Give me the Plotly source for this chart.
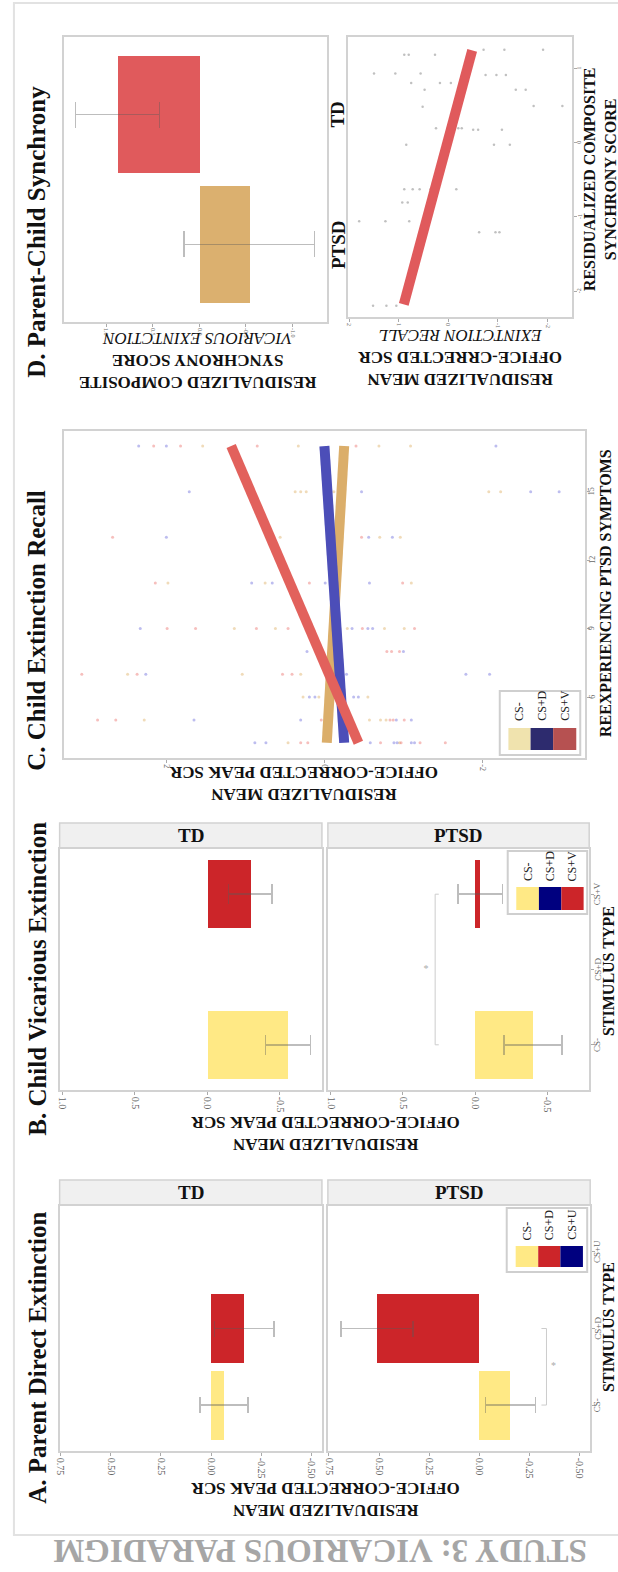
import plotly.graph_objects as go

W, H = 618, 1572
SERIF = "Liberation Serif"

# ---------------- DATA ----------------
A_categories = ["CS-", "CS+D", "CS+U"]
A_TD_mean = [-0.065, -0.165, None]
A_TD_se = [0.12, 0.148, None]
A_PTSD_mean = [-0.155, 0.51, None]
A_PTSD_se = [0.125, 0.18, None]
A_colors = ["#FFE985", "#CC2529", "#00007F"]
A_value_ticks = [0.75, 0.5, 0.25, 0.0, -0.25, -0.5]
A_value_ticktext = ["0.75", "0.50", "0.25", "0.00", "-0.25", "-0.50"]
A_sig = ("CS-", "CS+D", -0.335, -0.37)   # PTSD bracket: from, to, value, star value

B_categories = ["CS-", "CS+D", "CS+V"]
B_TD_mean = [-0.555, None, -0.295]
B_TD_se = [0.155, None, 0.15]
B_PTSD_mean = [-0.40, None, -0.035]
B_PTSD_se = [0.20, None, 0.155]
B_colors = ["#FFE985", "#00007F", "#CC2529"]
B_value_ticks = [1.0, 0.5, 0.0, -0.5]
B_value_ticktext = ["1.0", "0.5", "0.0", "-0.5"]
B_sig = ("CS-", "CS+V", 0.277, 0.34)

C_stimuli = ["CS-", "CS+D", "CS+V"]
C_sym_csminus = [17, 17, 17, 17, 15, 15, 15, 15, 15, 15, 13, 13, 13, 11, 11, 11, 9, 9, 9, 9, 9,
                 7, 7, 7, 6, 6, 6, 5, 5, 5, 5, 4, 4]
C_scr_csminus = [1.54, 0.33, -0.69, -1.09, 0.37, 0.30, 0.23, -0.12, -2.08, -2.23, 0.56, -0.70, -0.96,
                 1.98, 0.75, -1.10, 1.14, 0.62, -0.29, -0.76, -1.01, 2.49, 1.04, 0.30, 0.27, 0.07, -0.55,
                 2.28, -0.57, -0.71, -0.78, 0.46, -0.95]
C_sym_csd = [17, 17, 17, 15, 15, 15, 15, 13, 13, 13, 11, 11, 11, 11, 9, 9, 9, 9, 8, 8, 7, 7, 7, 7,
             6, 6, 6, 6, 5, 5, 5, 5, 4, 4, 4, 4, 4, 4, 4]
C_scr_csd = [2.35, 2.00, -2.17, 1.71, -0.47, -2.61, -2.97, 2.00, -0.56, -0.86, 0.92, 0.66, -0.01, -0.57,
             2.33, -0.35, -0.55, -0.61, 0.22, -1.00, 2.26, -0.28, -1.79, -2.09, 0.19, 0.12, -0.37, -0.43,
             1.65, 0.30, -0.91, -1.10, 0.88, 0.74, -0.58, -0.88, -0.92, -1.10, -1.14]
C_sym_csv = [17, 17, 17, 17, 13, 13, 11, 11, 11, 9, 9, 9, 9, 9, 9, 8, 8, 8, 7, 7, 7, 7,
             5, 5, 5, 5, 5, 5, 4, 4, 4, 4, 4, 4]
C_scr_csv = [2.16, 1.82, 0.85, -0.40, 2.68, -0.47, 2.14, 0.19, -0.99, 1.99, 1.63, 0.86, 0.46, -0.48, -1.14,
             -0.79, -0.85, -0.95, 3.07, 2.37, 0.53, 0.41, 2.87, 2.64, 0.04, -0.83, -0.87, -1.01,
             0.30, 0.21, -0.71, -0.97, -1.21, -1.53]
C_line_sym = [4, 17]
C_line_csminus = [-0.03, -0.25]
C_line_csd = [-0.25, 0.0]
C_line_csv = [-0.43, 1.18]
C_point_colors = ["#D9A54F", "#5A5AD6", "#E8605A"]
C_line_colors = ["#DBAE6A", "#4C4EB8", "#E2615C"]
C_legend_colors = ["#F0E3AE", "#2D2B6E", "#B65151"]
C_x_ticks = [2, 0, -2]
C_y_ticks = [6, 9, 12, 15]

D_groups = ["PTSD", "TD"]
D_sync_mean = [-0.535, 0.88]
D_sync_se = [0.70, 0.45]
D_colors = ["#DBB06F", "#E05A5C"]
D_x_ticks = [1.0, 0.5, 0.0, -0.5, -1.0]
D_x_ticktext = ["1.0", "0.5", "0.0", "-0.5", "-1.0"]
D_sync = [1.18, 1.18, 1.18, 1.25, 1.25, 1.25, 0.93, 0.93, 0.93, 0.91, 0.91, 0.91, 0.80, 0.80, 0.80,
          0.71, 0.71, 0.71, 0.48, 0.49, 0.49, 0.19, 0.19, 0.19, 0.19, 0.17, 0.17, 0.17, -0.03, -0.03, -0.03,
          -0.63, -0.63, -0.63, -0.63, -0.63, -0.81, -0.81, -1.06, -1.06, -1.06, -1.21, -1.21, -1.21,
          -2.20, -2.20, -2.20]
D_recall = [0.89, 0.80, 0.27, -0.71, -1.13, -1.91, 1.50, 1.07, 0.56, -0.75, -0.97, -1.16, 0.75, 0.17, -0.05,
            0.48, -1.36, -1.56, 0.52, -1.72, -2.30, 0.25, -0.05, -0.20, -0.27, -0.50, -0.60, -1.08,
            0.85, -0.92, -1.24, 0.89, 0.72, 0.58, 0.36, -0.16, 0.93, 0.82, 1.80, 1.27, 0.79,
            -0.62, -0.95, -1.03, 1.52, 1.25, 1.05]
D_line_sync = [-2.18, 1.24]
D_line_recall = [0.90, -0.48]
D_bx_ticks = [2, 1, 0, -1, -2]
D_by_ticks = [1, 0, -1, -2]


# ---------------- helpers ----------------
def px(x):
    return x / W


def py(y):
    return 1 - y / H


fig = go.Figure()
layout = {}
shapes = []
annos = []

BORDER = "#d2d2d2"
TICKC = "#666666"


def axname(n, letter):
    return f"{letter}axis" if n == 1 else f"{letter}axis{n}"


def ref(n, letter):
    return letter if n == 1 else f"{letter}{n}"


def set_axes(n, xd, yd, xr, yr, xt=None, xtt=None, yt=None, ytt=None, ylab_x=None,
             xfont=10, yfont=9, ycolor=TICKC, ybold=False, yticks=True):
    layout[axname(n, "x")] = dict(
        domain=[px(xd[0]), px(xd[1])], range=xr, anchor=ref(n, "y"),
        tickvals=xt, ticktext=xtt, tickangle=90, ticks="outside", ticklen=3,
        tickcolor="#aaaaaa", tickfont=dict(family=SERIF, size=xfont, color=TICKC),
        showgrid=False, zeroline=False, showline=True, mirror=True, linecolor=BORDER,
        linewidth=1.5, fixedrange=True)
    show_y = yt is not None
    layout[axname(n, "y")] = dict(
        domain=[py(yd[1]), py(yd[0])], range=yr, anchor=ref(n, "x"), side="right",
        tickvals=yt if show_y else [], ticks="outside" if (show_y and yticks) else "",
        ticklen=3, tickcolor="#aaaaaa", showticklabels=False,
        showgrid=False, zeroline=False, showline=True, mirror=True,
        linecolor=BORDER, linewidth=1.5, fixedrange=True)
    if show_y:
        # right-hand tick labels, rotated to read bottom-to-top
        for v, t in zip(yt, ytt):
            annos.append(dict(x=px(ylab_x), y=v, xref="paper", yref=ref(n, "y"), text=t, textangle=-90,
                              showarrow=False, xanchor="center", yanchor="middle",
                              font=dict(family=SERIF, size=yfont, color=ycolor,
                                        weight="bold" if ybold else "normal")))


def add_bars(n, cats, means, ses, colors, cap):
    idx = [i for i, m in enumerate(means) if m is not None]
    fig.add_trace(go.Bar(
        x=[means[i] for i in idx], y=idx, orientation="h", width=0.9,
        marker=dict(color=[colors[i] for i in idx], line=dict(width=0)),
        error_x=dict(type="data", array=[ses[i] for i in idx], color="rgba(90,90,90,0.4)",
                     thickness=1.5, width=cap),
        xaxis=ref(n, "x"), yaxis=ref(n, "y"), showlegend=False, hoverinfo="skip"))


def add_bracket(n, cats, sig):
    c0, c1, v, star = sig
    i0, i1 = cats.index(c0), cats.index(c1)
    d = -0.025 if v > 0 else 0.025
    fig.add_trace(go.Scatter(x=[v + d, v, v, v + d], y=[i0, i0, i1, i1], mode="lines",
                             line=dict(color="#cccccc", width=1), xaxis=ref(n, "x"), yaxis=ref(n, "y"),
                             showlegend=False, hoverinfo="skip"))
    fig.add_trace(go.Scatter(x=[star], y=[(i0 + i1) / 2], mode="text", text=["*"],
                             textfont=dict(size=10, color="#aaaaaa", family=SERIF),
                             xaxis=ref(n, "x"), yaxis=ref(n, "y"), showlegend=False, hoverinfo="skip"))


def strip(x0, x1, y0, y1, label):
    shapes.append(dict(type="rect", xref="paper", yref="paper", x0=px(x0), x1=px(x1), y0=py(y1), y1=py(y0),
                       fillcolor="#f0f0f0", line=dict(color=BORDER, width=1.5), layer="below"))
    annos.append(dict(x=px((x0 + x1) / 2), y=py((y0 + y1) / 2), xref="paper", yref="paper", text=label,
                      showarrow=False, font=dict(family=SERIF, size=19, color="#111111", weight="bold"),
                      xanchor="center", yanchor="middle"))


def legend_box(box, sw_x, sw_y, labels, colors, label_bottom):
    shapes.append(dict(type="rect", xref="paper", yref="paper", x0=px(box[0]), x1=px(box[2]),
                       y0=py(box[3]), y1=py(box[1]), fillcolor="white",
                       line=dict(color="#cfcfcf", width=2), layer="above"))
    for i, (lab, col) in enumerate(zip(labels, colors)):
        shapes.append(dict(type="rect", xref="paper", yref="paper", x0=px(sw_x[i]), x1=px(sw_x[i + 1]),
                           y0=py(sw_y[1]), y1=py(sw_y[0]), fillcolor=col, line=dict(width=0), layer="above"))
        annos.append(dict(x=px((sw_x[i] + sw_x[i + 1]) / 2), y=py(label_bottom), xref="paper", yref="paper",
                          text=lab, textangle=-90, showarrow=False, xanchor="center", yanchor="bottom",
                          font=dict(family=SERIF, size=12, color="#222222")))


def text(x, y, s, size, angle=0, color="#111111", bold=True):
    annos.append(dict(x=px(x), y=py(y), xref="paper", yref="paper", text=s, textangle=angle,
                      showarrow=False, xanchor="center", yanchor="middle",
                      font=dict(family=SERIF, size=size, color=color,
                                weight="bold" if bold else "normal")))


# ---------------- Panel A ----------------
A_xr = [0.755, -0.553]
A_pos = list(range(len(A_categories)))
set_axes(1, (56, 320), (1206, 1451), A_xr, [-0.6, 2.6], A_value_ticks, A_value_ticktext)
set_axes(2, (326, 590), (1206, 1451), A_xr, [-0.6, 2.6], A_value_ticks, A_value_ticktext,
         A_pos, A_categories, ylab_x=597)
add_bars(1, A_categories, A_TD_mean, A_TD_se, A_colors, 8)
add_bars(2, A_categories, A_PTSD_mean, A_PTSD_se, A_colors, 8)
add_bracket(2, A_categories, A_sig)
strip(56, 320, 1180, 1205, "TD")
strip(326, 590, 1180, 1205, "PTSD")
legend_box((506, 1208, 587, 1272), [515, 537.7, 560, 582.7], (1246, 1267), A_categories, A_colors, 1242)

# ---------------- Panel B ----------------
B_xr = [1.02, -0.79]
B_pos = list(range(len(B_categories)))
set_axes(3, (56, 320), (849, 1090), B_xr, [-0.6, 2.6], B_value_ticks, B_value_ticktext)
set_axes(4, (326, 589), (849, 1090), B_xr, [-0.6, 2.6], B_value_ticks, B_value_ticktext,
         B_pos, B_categories, ylab_x=597)
add_bars(3, B_categories, B_TD_mean, B_TD_se, B_colors, 10)
add_bars(4, B_categories, B_PTSD_mean, B_PTSD_se, B_colors, 10)
add_bracket(4, B_categories, B_sig)
strip(56, 320, 823, 848, "TD")
strip(326, 589, 823, 848, "PTSD")
legend_box((507, 851, 587, 914), [515.6, 538.4, 561, 583.4], (887, 910), B_categories, B_colors, 883)

# ---------------- Panel C ----------------
set_axes(5, (60, 585), (431, 758), [3.3, -3.3], [3.33, 17.66], C_x_ticks, [str(v) for v in C_x_ticks],
         C_y_ticks, [str(v) for v in C_y_ticks], ylab_x=591.5, xfont=8, yfont=8)
for sym, scr, col in zip([C_sym_csminus, C_sym_csd, C_sym_csv], [C_scr_csminus, C_scr_csd, C_scr_csv],
                         C_point_colors):
    fig.add_trace(go.Scatter(x=scr, y=sym, mode="markers",
                             marker=dict(size=3, color=col, opacity=0.4, line=dict(width=0)),
                             xaxis="x5", yaxis="y5", showlegend=False, hoverinfo="skip"))
for vals, col in zip([C_line_csminus, C_line_csd, C_line_csv], C_line_colors):
    fig.add_trace(go.Scatter(x=vals, y=C_line_sym, mode="lines", line=dict(color=col, width=10),
                             xaxis="x5", yaxis="y5", showlegend=False, hoverinfo="skip"))
legend_box((499, 691, 580, 755), [507.7, 530, 552.7, 576], (728, 750), C_stimuli, C_legend_colors, 723)

# ---------------- Panel D ----------------
D_pos = list(range(len(D_groups)))
set_axes(6, (60, 325), (37, 322), [1.46, -1.37], [-0.6, 1.6], D_x_ticks, D_x_ticktext,
         D_pos, D_groups, ylab_x=336, xfont=6, yfont=19, ycolor="#111111", ybold=True, yticks=False)
fig.add_trace(go.Bar(x=D_sync_mean, y=D_pos, orientation="h", width=0.9,
                     marker=dict(color=D_colors, line=dict(width=0)),
                     error_x=dict(type="data", array=D_sync_se, color="rgba(90,90,90,0.4)", thickness=1.5,
                                  width=13),
                     xaxis="x6", yaxis="y6", showlegend=False, hoverinfo="skip"))

set_axes(7, (346, 572), (37, 317), [2.03, -2.5], [-2.35, 1.42], D_bx_ticks, [str(v) for v in D_bx_ticks],
         D_by_ticks, [str(v) for v in D_by_ticks], ylab_x=579, xfont=6, yfont=6)
fig.add_trace(go.Scatter(x=D_recall, y=D_sync, mode="markers",
                         marker=dict(size=2.5, color="#8c8c8c", opacity=0.55, line=dict(width=0)),
                         xaxis="x7", yaxis="y7", showlegend=False, hoverinfo="skip"))
fig.add_trace(go.Scatter(x=D_line_recall, y=D_line_sync, mode="lines", line=dict(color="#E05A5C", width=10),
                         xaxis="x7", yaxis="y7", showlegend=False, hoverinfo="skip"))

# ---------------- text ----------------
# panel titles
text(33, 1358, "A. Parent Direct Extinction", 25, -90)
text(33, 979, "B. Child Vicarious Extinction", 25, -90)
text(33, 630, "C. Child Extinction Recall", 25, -90)
text(33, 232, "D. Parent-Child Synchrony", 25, -90)

# axis titles
yt = "RESIDUALIZED MEAN<br>OFFICE-CORRECTED PEAK SCR"
text(323, 1500, yt, 17, 180)
text(323, 1134, yt, 17, 180)
text(302, 784, yt, 17, 180)
text(195, 361, "RESIDUALIZED COMPOSITE<br>SYNCHRONY SCORE<br><span style='font-weight:normal'><i>VICARIOUS EXINTCTION</i></span>", 17, 180)
text(459, 357, "RESIDUALIZED MEAN<br>OFFICE-CRRECTED SCR<br><span style='font-weight:normal'><i>EXINTCTION RECALL</i></span>", 17, 180)
text(600, 179, "RESIDUALIZED COMPOSITE<br>SYNCHRONY SCORE", 16, -90)
text(608, 1327, "STIMULUS TYPE", 16, -90)
text(608, 971, "STIMULUS TYPE", 16, -90)
text(605, 593, "REEXPERIENCING PTSD SYMPTOMS", 16, -90)

# overall title
text(318, 1551, "STUDY 3: VICARIOUS PARADIGM", 33, 180, color="#a6a6a6")

# outer frame
shapes.append(dict(type="rect", xref="paper", yref="paper", x0=px(10), x1=1.05, y0=py(1535), y1=py(3),
                   line=dict(color="#e2e2e2", width=2), fillcolor="rgba(0,0,0,0)", layer="below"))

fig.update_layout(
    width=W, height=H, margin=dict(l=0, r=0, t=0, b=0), autosize=False,
    paper_bgcolor="white", plot_bgcolor="white", showlegend=False,
    font=dict(family=SERIF, color="#111111"), bargap=0,
    shapes=shapes, annotations=annos, **layout)

fig.write_html("out.html")
